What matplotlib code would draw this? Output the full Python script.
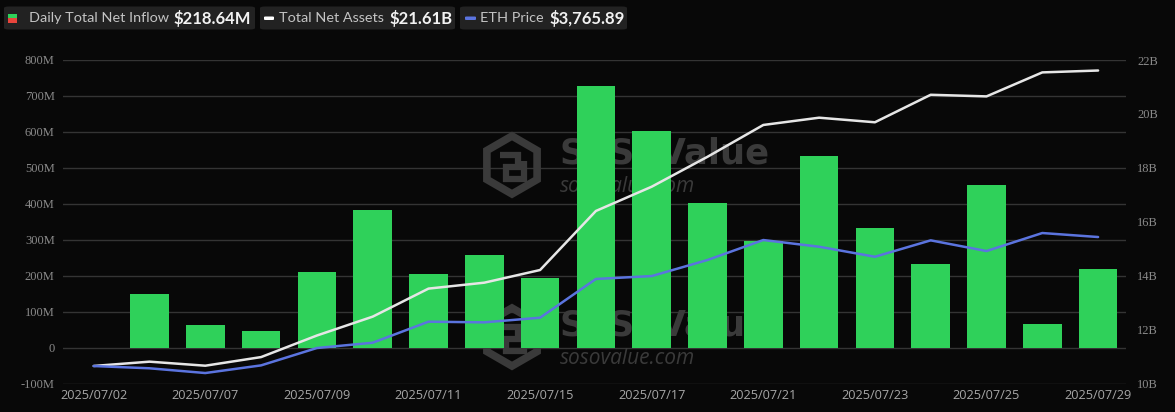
import matplotlib
matplotlib.use("Agg")
import matplotlib.pyplot as plt
from matplotlib.patches import FancyBboxPatch, Rectangle, Polygon
import numpy as np

dates = ["2025/07/02", "2025/07/03", "2025/07/07", "2025/07/08", "2025/07/09",
         "2025/07/10", "2025/07/11", "2025/07/14", "2025/07/15", "2025/07/16",
         "2025/07/17", "2025/07/18", "2025/07/21", "2025/07/22", "2025/07/23",
         "2025/07/24", "2025/07/25", "2025/07/28", "2025/07/29"]
net_inflow_m = [-1.82, 148.57, 62.08, 46.99, 211.32, 383.10, 204.85, 258.68, 192.33,
                726.74, 602.02, 402.50, 296.59, 533.87, 332.18, 231.23, 452.72,
                65.14, 218.64]
net_assets_b = [10.65, 10.81, 10.66, 10.98, 11.78, 12.48, 13.52, 13.74, 14.21,
                16.40, 17.30, 18.41, 19.59, 19.86, 19.69, 20.71, 20.65, 21.54, 21.61]
eth_price = [2570, 2549, 2505, 2576, 2737, 2786, 2981, 2975, 3018, 3377, 3404,
             3553, 3738, 3676, 3583, 3735, 3636, 3803, 3765.89]

left_ticks = [-100, 0, 100, 200, 300, 400, 500, 600, 700, 800]
left_labels = ["-100M", "0", "100M", "200M", "300M", "400M", "500M", "600M", "700M", "800M"]
right_ticks = [10, 12, 14, 16, 18, 20, 22]
right_labels = ["10B", "12B", "14B", "16B", "18B", "20B", "22B"]

BG = "#080808"
GRID = "#343434"
TICK = "#8a8a8a"
XTICK = "#a6a6a6"
GREEN = "#2fd15a"
RED = "#e8453c"
WHITE = "#e6e6e6"
BLUE = "#5b74df"
WM = "#3a3a3a"

W, H = 1175, 412
fig = plt.figure(figsize=(W / 100, H / 100), dpi=100, facecolor=BG)
ax = fig.add_axes([63 / W, 1 - 383.5 / H, (1126 - 63) / W, (383.5 - 60) / H])
ax.set_facecolor(BG)

x = np.arange(len(dates))
colors = [GREEN if v >= 0 else RED for v in net_inflow_m]
ax.bar(x, net_inflow_m, width=0.69, color=colors, zorder=3)
ax.set_xlim(-0.55, len(dates) - 0.5)
ax.set_ylim(-100, 800)
ax.set_yticks(left_ticks)
ax.set_yticklabels(left_labels, fontfamily="Liberation Serif", fontsize=9, color=TICK)
ax.grid(axis="y", color=GRID, linewidth=1, zorder=0)
ax.set_axisbelow(True)
ax.set_xticks(x[::2])
ax.set_xticklabels(dates[::2], fontfamily="Open Sans", fontsize=9.2, color=XTICK)
ax.tick_params(axis="both", length=0, pad=6)
ax.tick_params(axis="x", pad=4)
for s in ax.spines.values():
    s.set_visible(False)


def fx(xp, yp):
    return (xp / W, 1 - yp / H)


# watermarks (behind bars)
for dy in (0, 172):
    cx, cy = 512, 165 + dy
    r = 29
    verts = [fx(cx + r * np.cos(np.radians(90 + 60 * k)),
                cy - r * np.sin(np.radians(90 + 60 * k))) for k in range(6)]
    hexo = Polygon(verts, closed=True, transform=fig.transFigure,
                   facecolor="none", edgecolor=WM, linewidth=5.5, zorder=1,
                   joinstyle="miter")
    hexo.set_clip_on(False)
    ax.add_artist(hexo)
    inner = Polygon([fx(cx - 12, cy - 10), fx(cx + 6, cy - 10), fx(cx + 6, cy + 2),
                     fx(cx - 6, cy + 2), fx(cx - 6, cy + 14), fx(cx + 12, cy + 14),
                     fx(cx + 12, cy - 4)], closed=False, transform=fig.transFigure,
                    facecolor="none", edgecolor=WM, linewidth=4.5, zorder=1)
    inner.set_clip_on(False)
    ax.add_artist(inner)
    ax.text(*fx(559, cy - 12), "SoSoValue", transform=fig.transFigure, fontsize=25.5,
            fontweight="bold", color=WM, ha="left", va="center",
            fontfamily="DejaVu Sans", zorder=1, clip_on=False)
    ax.text(*fx(560, cy + 21), "sosovalue.com", transform=fig.transFigure, fontsize=15,
            style="italic", color=WM, ha="left", va="center",
            fontfamily="Open Sans", zorder=1, clip_on=False)

ax2 = ax.twinx()
ax2.set_ylim(10, 22)
ax2.set_yticks(right_ticks)
ax2.set_yticklabels(right_labels, fontfamily="Liberation Serif", fontsize=9, color=TICK)
ax2.tick_params(axis="y", length=0, pad=8)
ax2.plot(x, net_assets_b, color=WHITE, linewidth=1.8, zorder=5, solid_capstyle="round")
for s in ax2.spines.values():
    s.set_visible(False)

ax3 = ax.twinx()
ax3.set_ylim(2408, 5407)
ax3.axis("off")
ax3.plot(x, eth_price, color=BLUE, linewidth=1.8, zorder=5, solid_capstyle="round")


# legend
def box(x0, x1):
    p = FancyBboxPatch((x0 / W, 1 - 29.5 / H), (x1 - x0) / W, 23 / H,
                       boxstyle="round,pad=0,rounding_size=0.004",
                       transform=fig.transFigure, facecolor="#222222",
                       edgecolor="none")
    fig.patches.append(p)


box(4, 255)
box(260, 455)
box(460, 627)

yc = 1 - 18.5 / H
fig.patches.append(Rectangle((8 / W, 1 - 18.5 / H), 9 / W, 4.5 / H, transform=fig.transFigure,
                             facecolor=GREEN, edgecolor="none"))
fig.patches.append(Rectangle((8 / W, 1 - 23 / H), 9 / W, 4.5 / H, transform=fig.transFigure,
                             facecolor=RED, edgecolor="none"))
fig.patches.append(FancyBboxPatch((264 / W, 1 - 20 / H), 10 / W, 3.5 / H,
                                  boxstyle="round,pad=0,rounding_size=0.0015",
                                  transform=fig.transFigure, facecolor="#ffffff",
                                  edgecolor="none"))
fig.patches.append(FancyBboxPatch((465 / W, 1 - 20 / H), 11 / W, 3.5 / H,
                                  boxstyle="round,pad=0,rounding_size=0.0015",
                                  transform=fig.transFigure, facecolor=BLUE,
                                  edgecolor="none"))

LBL = "#c4c4c4"
VAL = "#f2f2f2"
fig.text(29 / W, yc, "Daily Total Net Inflow", fontsize=10.4, color=LBL, va="center",
         fontfamily="Lato")
fig.text(174 / W, yc, "$218.64M", fontsize=12, color=VAL, va="center",
         fontfamily="Lato", fontweight="bold")
fig.text(279 / W, yc, "Total Net Assets", fontsize=10.4, color=LBL, va="center",
         fontfamily="Lato")
fig.text(389 / W, yc, "$21.61B", fontsize=12, color=VAL, va="center",
         fontfamily="Lato", fontweight="bold")
fig.text(480 / W, yc, "ETH Price", fontsize=10.4, color=LBL, va="center",
         fontfamily="Lato")
fig.text(549 / W, yc, "$3,765.89", fontsize=12, color=VAL, va="center",
         fontfamily="Lato", fontweight="bold")

fig.savefig("out.png", dpi=100, facecolor=BG)
